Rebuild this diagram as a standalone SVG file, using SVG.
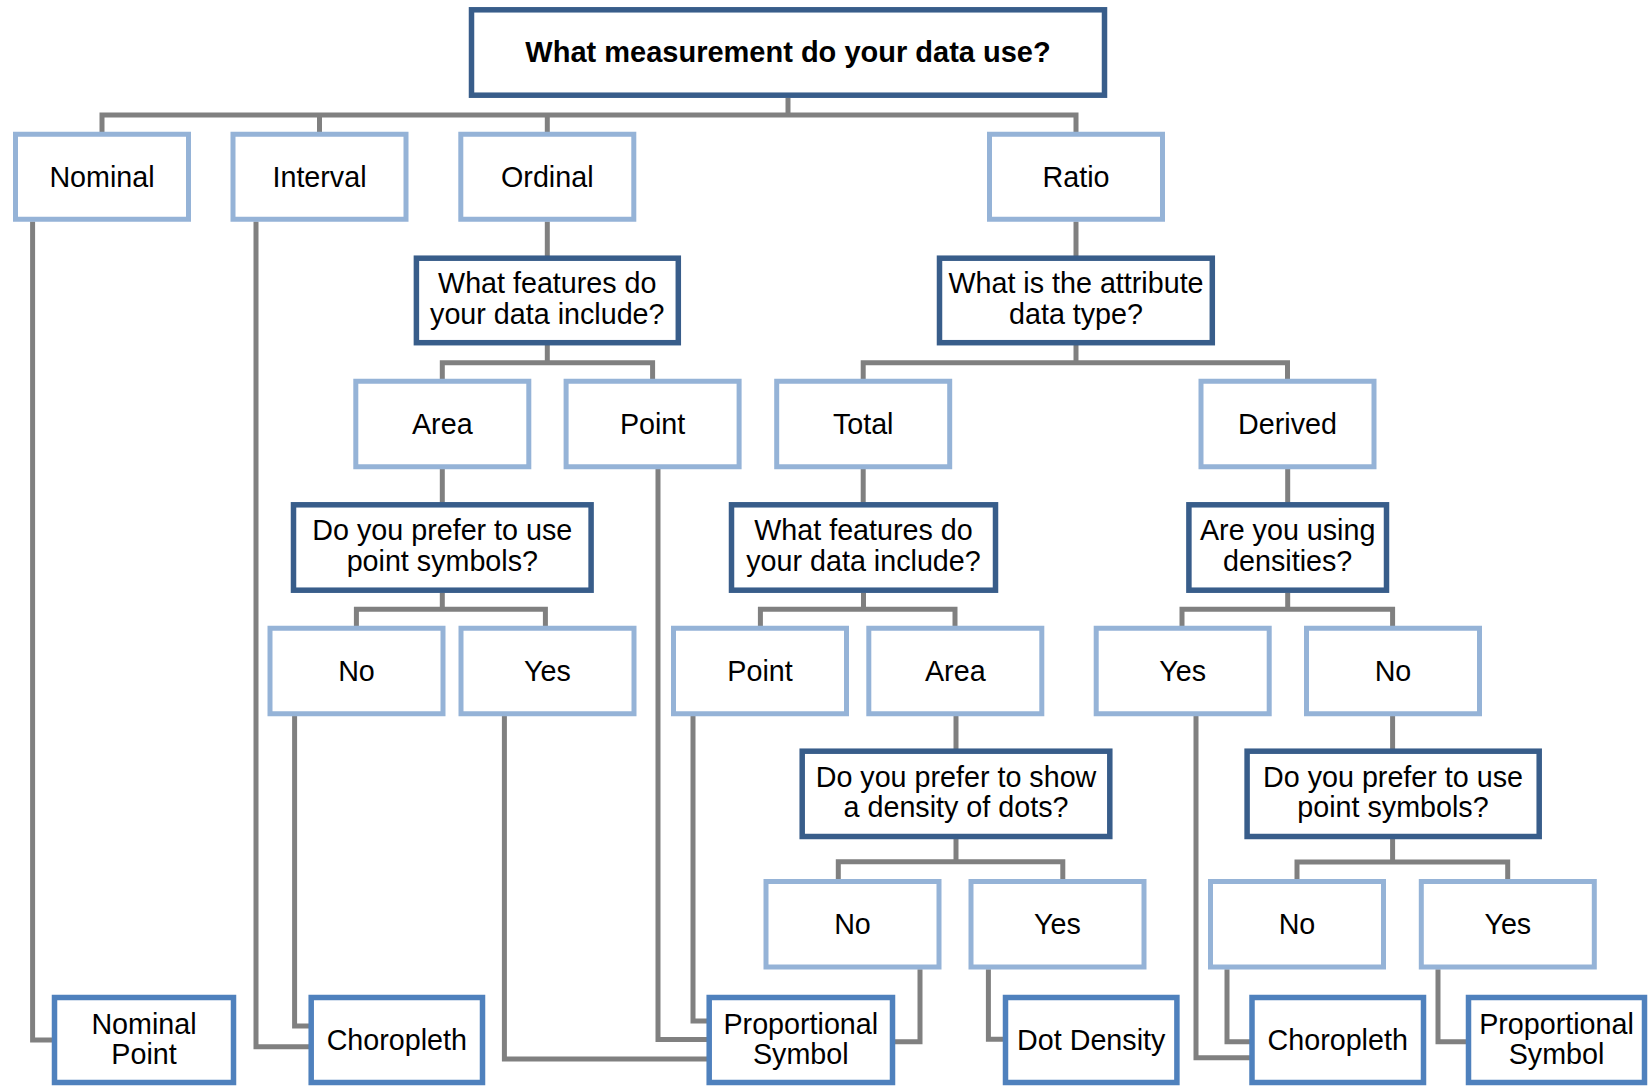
<svg xmlns="http://www.w3.org/2000/svg" width="1648" height="1086" viewBox="0 0 1648 1086">
<style>
  .bg { fill: #ffffff; }
  .conn { fill: none; stroke: #808080; stroke-width: 5; stroke-linejoin: miter; }
  .q { fill: #ffffff; stroke: #385D8A; stroke-width: 5.5; }
  .opt { fill: #ffffff; stroke: #95B3D7; stroke-width: 5; }
  .res { fill: #ffffff; stroke: #4F81BD; stroke-width: 5.5; }
  text { font-family: "Liberation Sans", Arial, sans-serif; font-size: 28.7px; fill: #000000; text-anchor: middle; }
  .title { font-weight: bold; font-size: 29px; }
</style>
<rect class="bg" x="0" y="0" width="1648" height="1086"/>

<g id="connectors">
  <path class="conn" d="M788,97.7 V115"/>
  <path class="conn" d="M102,132 V115 H1076 V132"/>
  <path class="conn" d="M319.5,115 V132"/>
  <path class="conn" d="M547.3,115 V132"/>
  <path class="conn" d="M32.6,221.5 V1040 H54"/>
  <path class="conn" d="M256,221.5 V1046.7 H310"/>
  <path class="conn" d="M547.3,221.5 V257"/>
  <path class="conn" d="M547.3,345 V362.7"/>
  <path class="conn" d="M442.3,380 V362.7 H652.6 V380"/>
  <path class="conn" d="M1076,221.5 V257"/>
  <path class="conn" d="M1076,345 V362.7"/>
  <path class="conn" d="M863.2,380 V362.7 H1287.5 V380"/>
  <path class="conn" d="M442.3,469 V503"/>
  <path class="conn" d="M442.3,592.7 V609.3"/>
  <path class="conn" d="M356.4,627 V609.3 H545.4 V627"/>
  <path class="conn" d="M658,469 V1039.5 H708"/>
  <path class="conn" d="M863.2,469 V503"/>
  <path class="conn" d="M863.5,592.7 V609.3"/>
  <path class="conn" d="M760.4,627 V609.3 H955 V627"/>
  <path class="conn" d="M1287.7,469 V503"/>
  <path class="conn" d="M1287.7,592.7 V609.3"/>
  <path class="conn" d="M1182,627 V609.3 H1392.6 V627"/>
  <path class="conn" d="M294.6,716 V1026 H310"/>
  <path class="conn" d="M504.4,716 V1059 H708"/>
  <path class="conn" d="M693,716 V1021 H708"/>
  <path class="conn" d="M956,716 V750"/>
  <path class="conn" d="M956,839 V861.7"/>
  <path class="conn" d="M838.3,880 V861.7 H1062.8 V880"/>
  <path class="conn" d="M1196,716 V1057.7 H1251"/>
  <path class="conn" d="M1392.6,716 V750"/>
  <path class="conn" d="M1392.6,839 V862"/>
  <path class="conn" d="M1297,880 V862 H1507.7 V880"/>
  <path class="conn" d="M920,969.3 V1041.7 H894"/>
  <path class="conn" d="M988.4,969.3 V1039.3 H1004"/>
  <path class="conn" d="M1227,969.3 V1041.7 H1251"/>
  <path class="conn" d="M1438,969.3 V1041.7 H1467"/>
</g>

<g id="n-title">
  <rect class="q" x="471.5" y="9.8" width="633" height="85.4"/>
  <text class="title" x="788" y="62">What measurement do your data use?</text>
</g>

<g id="n-nominal">
  <rect class="opt" x="15.5" y="134.25" width="173" height="85"/>
  <text x="102" y="186.5">Nominal</text>
</g>
<g id="n-interval">
  <rect class="opt" x="233" y="134.25" width="173" height="85"/>
  <text x="319.5" y="186.5">Interval</text>
</g>
<g id="n-ordinal">
  <rect class="opt" x="460.8" y="134.25" width="173" height="85"/>
  <text x="547.3" y="186.5">Ordinal</text>
</g>
<g id="n-ratio">
  <rect class="opt" x="989.5" y="134.25" width="173" height="85"/>
  <text x="1076" y="186.5">Ratio</text>
</g>

<g id="q-ordinal-features">
  <rect class="q" x="416.4" y="258.2" width="261.9" height="84.5"/>
  <text x="547.3" y="293.3">What features do</text>
  <text x="547.3" y="323.8">your data include?</text>
</g>
<g id="q-ratio-type">
  <rect class="q" x="939.5" y="258.2" width="272.8" height="84.5"/>
  <text x="1076" y="293.3">What is the attribute</text>
  <text x="1076" y="323.8">data type?</text>
</g>

<g id="n-ord-area">
  <rect class="opt" x="355.8" y="381.25" width="173" height="85.5"/>
  <text x="442.3" y="434">Area</text>
</g>
<g id="n-ord-point">
  <rect class="opt" x="566.1" y="381.25" width="173" height="85.5"/>
  <text x="652.6" y="434">Point</text>
</g>
<g id="n-total">
  <rect class="opt" x="776.7" y="381.25" width="173" height="85.5"/>
  <text x="863.2" y="434">Total</text>
</g>
<g id="n-derived">
  <rect class="opt" x="1201" y="381.25" width="173" height="85.5"/>
  <text x="1287.5" y="434">Derived</text>
</g>

<g id="q-area-symbols">
  <rect class="q" x="293.5" y="504.8" width="297.6" height="85.4"/>
  <text x="442.3" y="540.3">Do you prefer to use</text>
  <text x="442.3" y="570.8">point symbols?</text>
</g>
<g id="q-total-features">
  <rect class="q" x="731.5" y="504.8" width="264" height="85.4"/>
  <text x="863.5" y="540.3">What features do</text>
  <text x="863.5" y="570.8">your data include?</text>
</g>
<g id="q-derived-densities">
  <rect class="q" x="1188.9" y="504.8" width="197.6" height="85.4"/>
  <text x="1287.7" y="540.3">Are you using</text>
  <text x="1287.7" y="570.8">densities?</text>
</g>

<g id="n-area-no">
  <rect class="opt" x="270" y="628.25" width="173" height="85.5"/>
  <text x="356.5" y="681">No</text>
</g>
<g id="n-area-yes">
  <rect class="opt" x="461" y="628.25" width="173" height="85.5"/>
  <text x="547.5" y="681">Yes</text>
</g>
<g id="n-total-point">
  <rect class="opt" x="673.5" y="628.25" width="173" height="85.5"/>
  <text x="760" y="681">Point</text>
</g>
<g id="n-total-area">
  <rect class="opt" x="868.8" y="628.25" width="173" height="85.5"/>
  <text x="955.3" y="681">Area</text>
</g>
<g id="n-dens-yes">
  <rect class="opt" x="1096.2" y="628.25" width="173" height="85.5"/>
  <text x="1182.7" y="681">Yes</text>
</g>
<g id="n-dens-no">
  <rect class="opt" x="1306.5" y="628.25" width="173" height="85.5"/>
  <text x="1393" y="681">No</text>
</g>

<g id="q-dot-density">
  <rect class="q" x="802.2" y="751.2" width="307.6" height="85.3"/>
  <text x="956" y="786.6">Do you prefer to show</text>
  <text x="956" y="817.1">a density of dots?</text>
</g>
<g id="q-derived-symbols">
  <rect class="q" x="1247.1" y="751.2" width="292.1" height="85.3"/>
  <text x="1393" y="786.6">Do you prefer to use</text>
  <text x="1393" y="817.1">point symbols?</text>
</g>

<g id="n-dot-no">
  <rect class="opt" x="766" y="881.5" width="173" height="85.5"/>
  <text x="852.5" y="934.3">No</text>
</g>
<g id="n-dot-yes">
  <rect class="opt" x="971" y="881.5" width="173" height="85.5"/>
  <text x="1057.5" y="934.3">Yes</text>
</g>
<g id="n-sym-no">
  <rect class="opt" x="1210.5" y="881.5" width="173" height="85.5"/>
  <text x="1297" y="934.3">No</text>
</g>
<g id="n-sym-yes">
  <rect class="opt" x="1421.3" y="881.5" width="173" height="85.5"/>
  <text x="1507.8" y="934.3">Yes</text>
</g>

<g id="r-nominal-point">
  <rect class="res" x="54.5" y="997.5" width="179" height="85"/>
  <text x="144" y="1033.5">Nominal</text>
  <text x="144" y="1064">Point</text>
</g>
<g id="r-choropleth-1">
  <rect class="res" x="311.2" y="997.5" width="171.3" height="85"/>
  <text x="396.8" y="1050">Choropleth</text>
</g>
<g id="r-propsym-1">
  <rect class="res" x="709.2" y="997.5" width="183.3" height="85"/>
  <text x="800.8" y="1033.5">Proportional</text>
  <text x="800.8" y="1064">Symbol</text>
</g>
<g id="r-dot-density">
  <rect class="res" x="1005.5" y="997.5" width="171.4" height="85"/>
  <text x="1091.2" y="1050">Dot Density</text>
</g>
<g id="r-choropleth-2">
  <rect class="res" x="1252" y="997.5" width="171.5" height="85"/>
  <text x="1337.7" y="1050">Choropleth</text>
</g>
<g id="r-propsym-2">
  <rect class="res" x="1468.5" y="997.5" width="176" height="85"/>
  <text x="1556.5" y="1033.5">Proportional</text>
  <text x="1556.5" y="1064">Symbol</text>
</g>
</svg>
